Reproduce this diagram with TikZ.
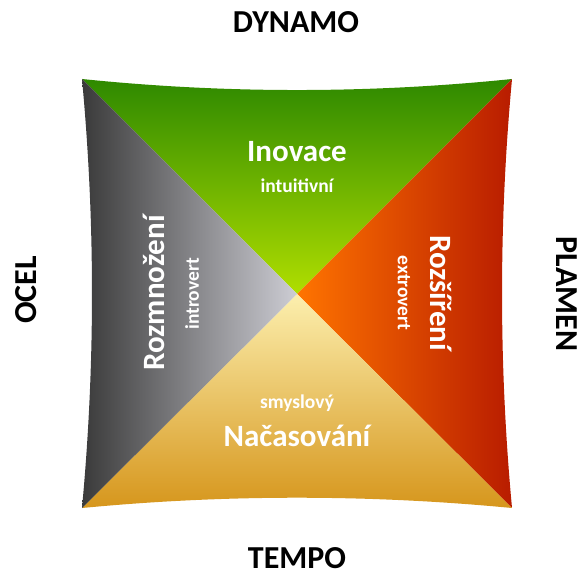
\documentclass[tikz,border=0pt]{standalone}
\usepackage{fontspec}
\setmainfont{Carlito}
\definecolor{gA}{HTML}{2E8900}
\definecolor{gB}{HTML}{5CAC00}
\definecolor{gC}{HTML}{B0DE00}
\definecolor{rA}{HTML}{FF7400}
\definecolor{rB}{HTML}{E24800}
\definecolor{rC}{HTML}{B81C00}
\definecolor{yA}{HTML}{FCEFAE}
\definecolor{yB}{HTML}{F0C450}
\definecolor{yC}{HTML}{D6961C}
\definecolor{kA}{HTML}{3A3A3A}
\definecolor{kB}{HTML}{767678}
\definecolor{kC}{HTML}{CDCDD4}
\tikzset{
  outer/.style={font=\bfseries\fontsize{32}{32}\selectfont, text=black, inner sep=0pt},
  mainlbl/.style={font=\bfseries\fontsize{31}{31}\selectfont, text=white, inner sep=0pt},
  sublbl/.style={font=\bfseries\fontsize{19.5}{19.5}\selectfont, text=white, inner sep=0pt}
}
\begin{document}
\begin{tikzpicture}[x=1pt,y=1pt]
\useasboundingbox (0,0) rectangle (586,-577);
\coordinate (TL) at (82,-79);
\coordinate (TR) at (512,-79);
\coordinate (BR) at (512,-508);
\coordinate (BL) at (82,-508);
\coordinate (C) at (297,-294);
% top
\shade[top color=gA, middle color=gB, bottom color=gC]
  (TL) .. controls (225.3,-93.7) and (368.7,-93.7) .. (TR) -- (C) -- cycle;
% right
\shade[left color=rA, middle color=rB, right color=rC]
  (TR) .. controls (498.7,-222) and (498.7,-365) .. (BR) -- (C) -- cycle;
% bottom
\shade[top color=yA, middle color=yB, bottom color=yC]
  (BR) .. controls (368.7,-494.3) and (225.3,-494.3) .. (BL) -- (C) -- cycle;
% left
\shade[left color=kA, middle color=kB, right color=kC]
  (BL) .. controls (95.3,-365) and (95.3,-222) .. (TL) -- (C) -- cycle;

\node[outer] (dyn) at (296,-22) {DYNAMO};
\node[outer] (tem) at (297,-558) {TEMPO};
\node[outer, rotate=90] (oce) at (26,-290) {OCEL};
\node[outer, rotate=-90] (pla) at (567,-294) {PLAMEN};

\node[mainlbl] (ino) at (297,-152) {Inovace};
\node[sublbl] (int) at (297,-186) {intuitivní};
\node[sublbl] (smy) at (297,-403) {smyslový};
\node[mainlbl] (nac) at (297,-436) {Načasování};
\node[mainlbl, rotate=90] (roz) at (154,-293) {Rozmnožení};
\node[sublbl, rotate=90] (intr) at (192,-294) {introvert};
\node[mainlbl, rotate=-90] (rzs) at (441,-293) {Rozšíření};
\node[sublbl, rotate=-90] (ext) at (404,-293) {extrovert};
\end{tikzpicture}
\end{document}
